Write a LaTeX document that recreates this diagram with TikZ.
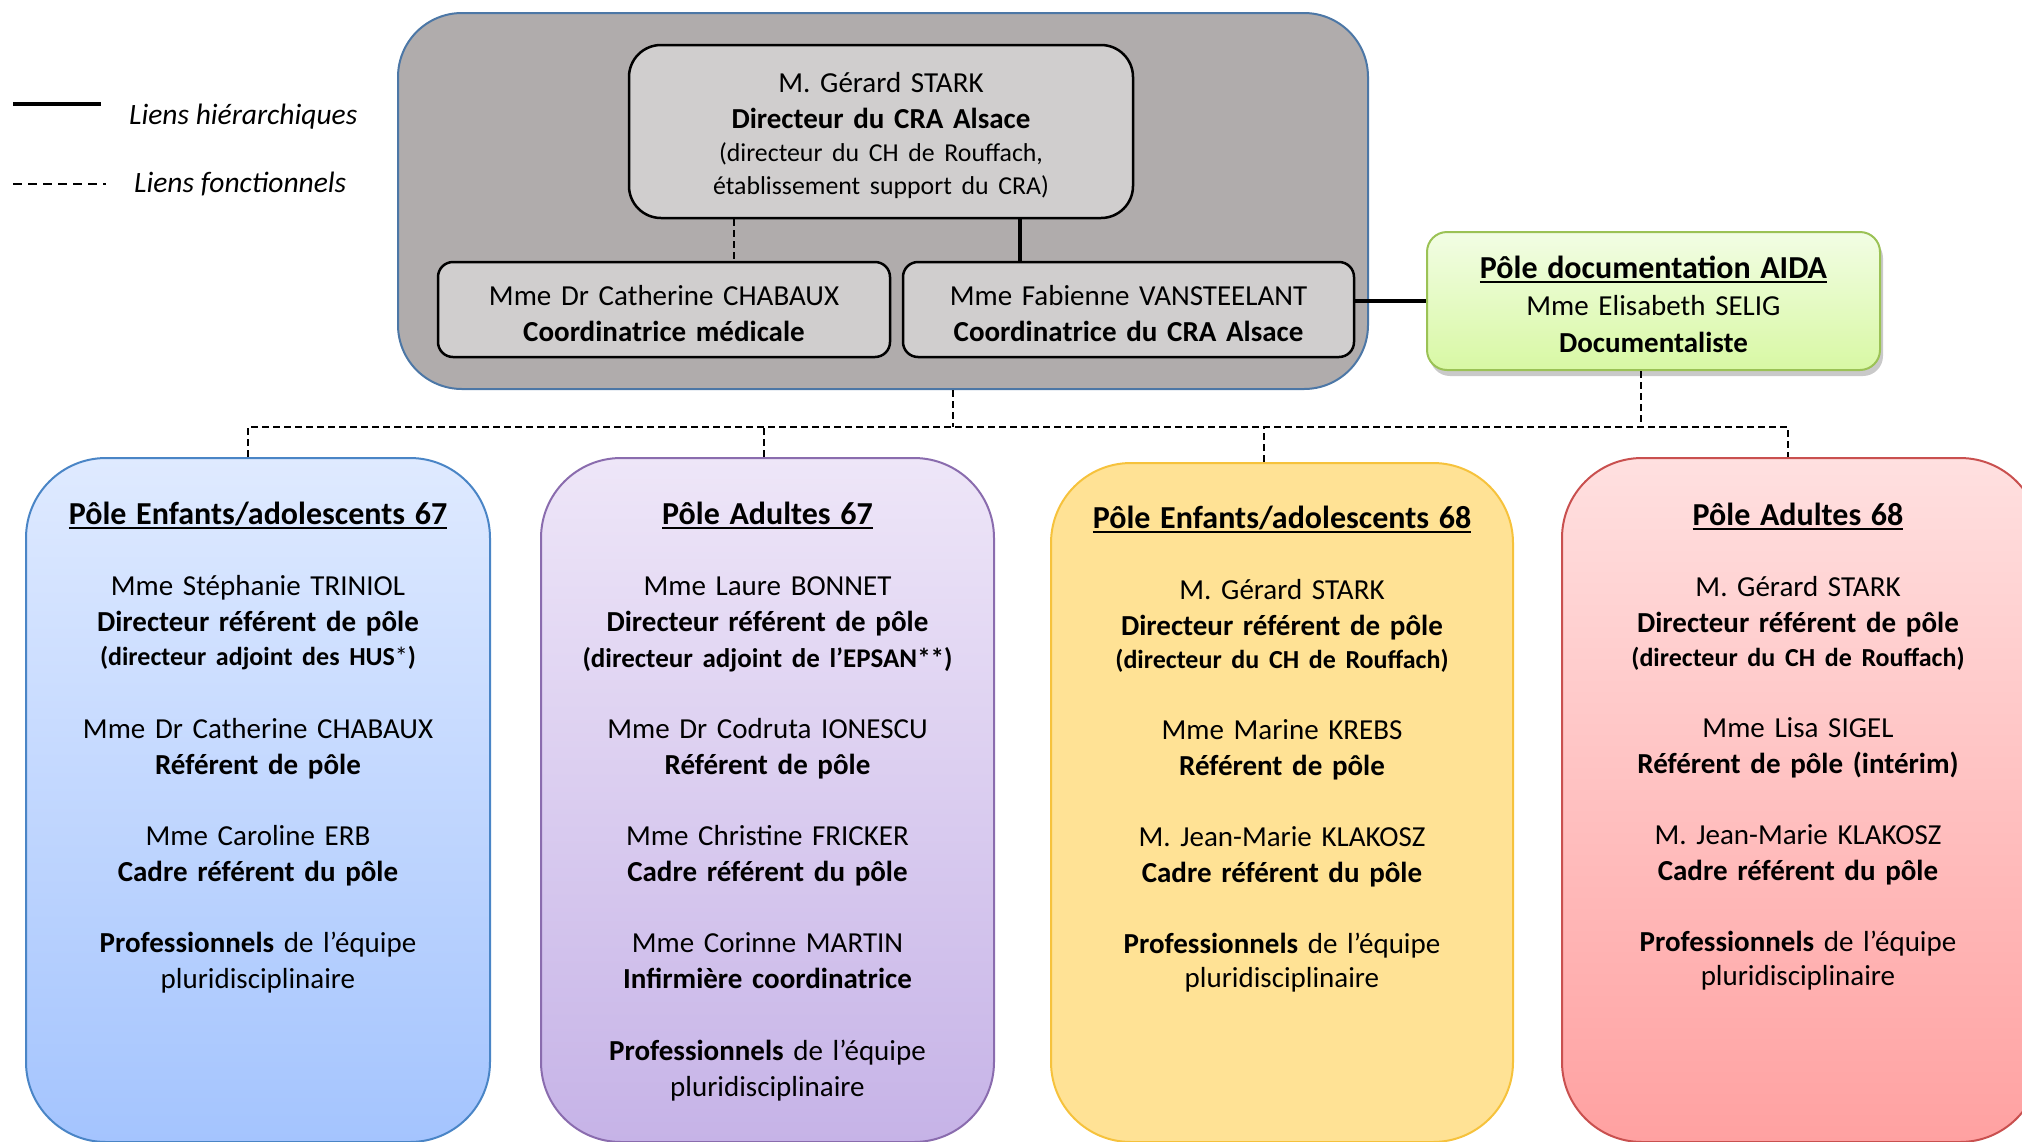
\documentclass[tikz,border=0pt]{standalone}
\usepackage{fontspec}
\setmainfont{Carlito}
\usetikzlibrary{shadows}
\definecolor{grayfill}{HTML}{B0ACAC}
\definecolor{grayline}{HTML}{4C77A6}
\definecolor{innerfill}{HTML}{D0CECE}
\definecolor{bluetop}{HTML}{DFEAFF}
\definecolor{bluebot}{HTML}{A4C4FE}
\definecolor{blueline}{HTML}{4A85C6}
\definecolor{purtop}{HTML}{EEE6F8}
\definecolor{purbot}{HTML}{C6B3E7}
\definecolor{purline}{HTML}{8A6CAE}
\definecolor{yelfill}{HTML}{FFE295}
\definecolor{yelline}{HTML}{F6C23C}
\definecolor{redtop}{HTML}{FFE0E0}
\definecolor{redbot}{HTML}{FFA1A1}
\definecolor{redline}{HTML}{C9504F}
\definecolor{grntop}{HTML}{F2FDE4}
\definecolor{grnbot}{HTML}{D8F8A4}
\definecolor{grnline}{HTML}{9BC255}
\newcommand\myul[1]{\setbox0\hbox{#1}\rlap{\rule[-4.5pt]{\wd0}{2pt}}\box0}
\newcommand\fsN{\fontsize{29}{36}\selectfont}
\newcommand\fsT{\fontsize{32}{36}\selectfont}
\newcommand\fsP{\fontsize{26}{36}\selectfont}
\begin{document}
\begin{tikzpicture}[x=1pt,y=-1pt,
  box/.style={rectangle, inner sep=0pt, line width=2.5pt, draw=black, fill=innerfill},
  pole/.style={rectangle, inner sep=0pt, line width=2pt, rounded corners=80pt},
  txt/.style={inner sep=0pt, text width=480pt, align=center, anchor=base, font=\fsN},
  hl/.style={line width=3.5pt, draw=black},
  fl/.style={line width=1.8pt, draw=black, dash pattern=on 7pt off 4pt},
  legtxt/.style={inner sep=0pt, anchor=base west, font=\fontsize{29.5}{36}\selectfont\itshape}
]
\useasboundingbox (0,0) rectangle (2022,1141);

% legend
\coordinate (lh1) at (13,104);
\coordinate (lh2) at (101,104);
\coordinate (lf1) at (13,184);
\coordinate (lf2) at (106,184);
\draw[line width=4pt] (lh1) -- (lh2);
\draw[line width=2pt, dash pattern=on 9pt off 6pt] (lf1) -- (lf2);
\node[legtxt] (leghl) at (129,124) {Liens hiérarchiques};
\node[legtxt] (legfl) at (134,192) {Liens fonctionnels};

% top group
\node[rectangle, inner sep=0pt, line width=2pt, draw=grayline, fill=grayfill, rounded corners=64pt,
      minimum width=970pt, minimum height=376pt] (grp) at (883,201) {};
\node[box, rounded corners=32pt, minimum width=504pt, minimum height=173pt] (dir) at (881,131.5) {};
\node[box, rounded corners=15pt, minimum width=452pt, minimum height=95pt] (lc) at (664,309.5) {};
\node[box, rounded corners=15pt, minimum width=451pt, minimum height=95pt] (rc) at (1128.5,309.5) {};
\node[rectangle, inner sep=0pt, line width=2pt, draw=grnline, top color=grntop, bottom color=grnbot,
      rounded corners=20pt, minimum width=453pt, minimum height=138pt,
      drop shadow={shadow xshift=3pt, shadow yshift=-6pt, opacity=0.3, fill=black!70}] (aida) at (1653.5,301) {};

\node[txt] (dirtxt) at (881,92) {M. Gérard STARK\\
  \textbf{Directeur du CRA Alsace}\\[-3pt]
  {\fontsize{25.8}{36}\selectfont (directeur du CH de Rouffach,}\\[-3pt]
  {\fontsize{25.8}{36}\selectfont établissement support du CRA)}};
\node[txt] (lctxt) at (664,305) {Mme Dr Catherine CHABAUX\\ \textbf{Coordinatrice médicale}};
\node[txt] (rctxt) at (1128.5,305) {Mme Fabienne VANSTEELANT\\ \textbf{Coordinatrice du CRA Alsace}};
\node[txt] (aidatxt) at (1653.5,278) {{\fsT\bfseries\myul{Pôle documentation AIDA}}\\[1pt]
  Mme Elisabeth SELIG\\[1pt] \textbf{Documentaliste}};

\coordinate (c1) at (734,0);
\coordinate (c2) at (1020,0);
\draw[fl] (dir.south -| c1) -- (lc.north -| c1);
\draw[hl] (dir.south -| c2) -- (rc.north -| c2);
\draw[hl] (rc.east |- aida.west) -- (aida.west);

% bottom poles
\node[pole, draw=blueline, top color=bluetop, bottom color=bluebot, minimum width=464pt, minimum height=684pt] (pe67) at (258,800) {};
\node[pole, draw=purline, top color=purtop, bottom color=purbot, minimum width=453pt, minimum height=684pt] (pa67) at (767.5,800) {};
\node[pole, draw=yelline, fill=yelfill, minimum width=462pt, minimum height=679pt] (pe68) at (1282,802.5) {};
\node[pole, draw=redline, top color=redtop, bottom color=redbot, minimum width=478pt, minimum height=684pt] (pa68) at (1801,800) {};

\node[txt] (pe67txt) at (258,524) {{\fsT\bfseries\myul{Pôle Enfants/adolescents 67}}\\[35pt]
  Mme Stéphanie TRINIOL\\
  \textbf{Directeur référent de pôle}\\[-2pt]
  {\fsP\bfseries (directeur adjoint des HUS\mdseries*\bfseries)}\\[37pt]
  Mme Dr Catherine CHABAUX\\
  \textbf{Référent de pôle}\\[35pt]
  Mme Caroline ERB\\
  \textbf{Cadre référent du pôle}\\[35pt]
  \textbf{Professionnels} de l’équipe\\
  pluridisciplinaire};

\node[txt] (pa67txt) at (767.5,524) {{\fsT\bfseries\myul{Pôle Adultes 67}}\\[35pt]
  Mme Laure BONNET\\
  \textbf{Directeur référent de pôle}\\
  {\fontsize{27}{36}\selectfont\bfseries (directeur adjoint de l’EPSAN**)}\\[35pt]
  Mme Dr Codruta IONESCU\\
  \textbf{Référent de pôle}\\[35pt]
  Mme Christine FRICKER\\
  \textbf{Cadre référent du pôle}\\[35pt]
  Mme Corinne MARTIN\\
  \textbf{Infirmière coordinatrice}\\[36pt]
  \textbf{Professionnels} de l’équipe\\
  pluridisciplinaire};

\node[txt] (pe68txt) at (1282,528) {{\fsT\bfseries\myul{Pôle Enfants/adolescents 68}}\\[35pt]
  M. Gérard STARK\\
  \textbf{Directeur référent de pôle}\\[-3pt]
  {\fsP\bfseries (directeur du CH de Rouffach)}\\[35pt]
  Mme Marine KREBS\\
  \textbf{Référent de pôle}\\[35pt]
  M. Jean-Marie KLAKOSZ\\
  \textbf{Cadre référent du pôle}\\[35pt]
  \textbf{Professionnels} de l’équipe\\[-2pt]
  pluridisciplinaire};

\node[txt] (pa68txt) at (1798,525) {{\fsT\bfseries\myul{Pôle Adultes 68}}\\[35pt]
  M. Gérard STARK\\
  \textbf{Directeur référent de pôle}\\[-2pt]
  {\fsP\bfseries (directeur du CH de Rouffach)}\\[35pt]
  Mme Lisa SIGEL\\
  \textbf{Référent de pôle (intérim)}\\[35pt]
  M. Jean-Marie KLAKOSZ\\
  \textbf{Cadre référent du pôle}\\[35pt]
  \textbf{Professionnels} de l’équipe\\[-2pt]
  pluridisciplinaire};

% functional bus
\coordinate (busY) at (0,427);
\coordinate (gx) at (953,0);
\coordinate (ax) at (1641,0);
\coordinate (x1) at (248,0);
\coordinate (x2) at (764,0);
\coordinate (x3) at (1264,0);
\coordinate (x4) at (1788,0);
\draw[fl] (grp.south -| gx) -- (gx |- busY);
\draw[fl] (aida.south -| ax) -- (ax |- busY);
\draw[fl] (pe67.north -| x1) -- (x1 |- busY) -- (x4 |- busY) -- (pa68.north -| x4);
\draw[fl] (pa67.north -| x2) -- (x2 |- busY);
\draw[fl] (pe68.north -| x3) -- (x3 |- busY);
\end{tikzpicture}
\end{document}
